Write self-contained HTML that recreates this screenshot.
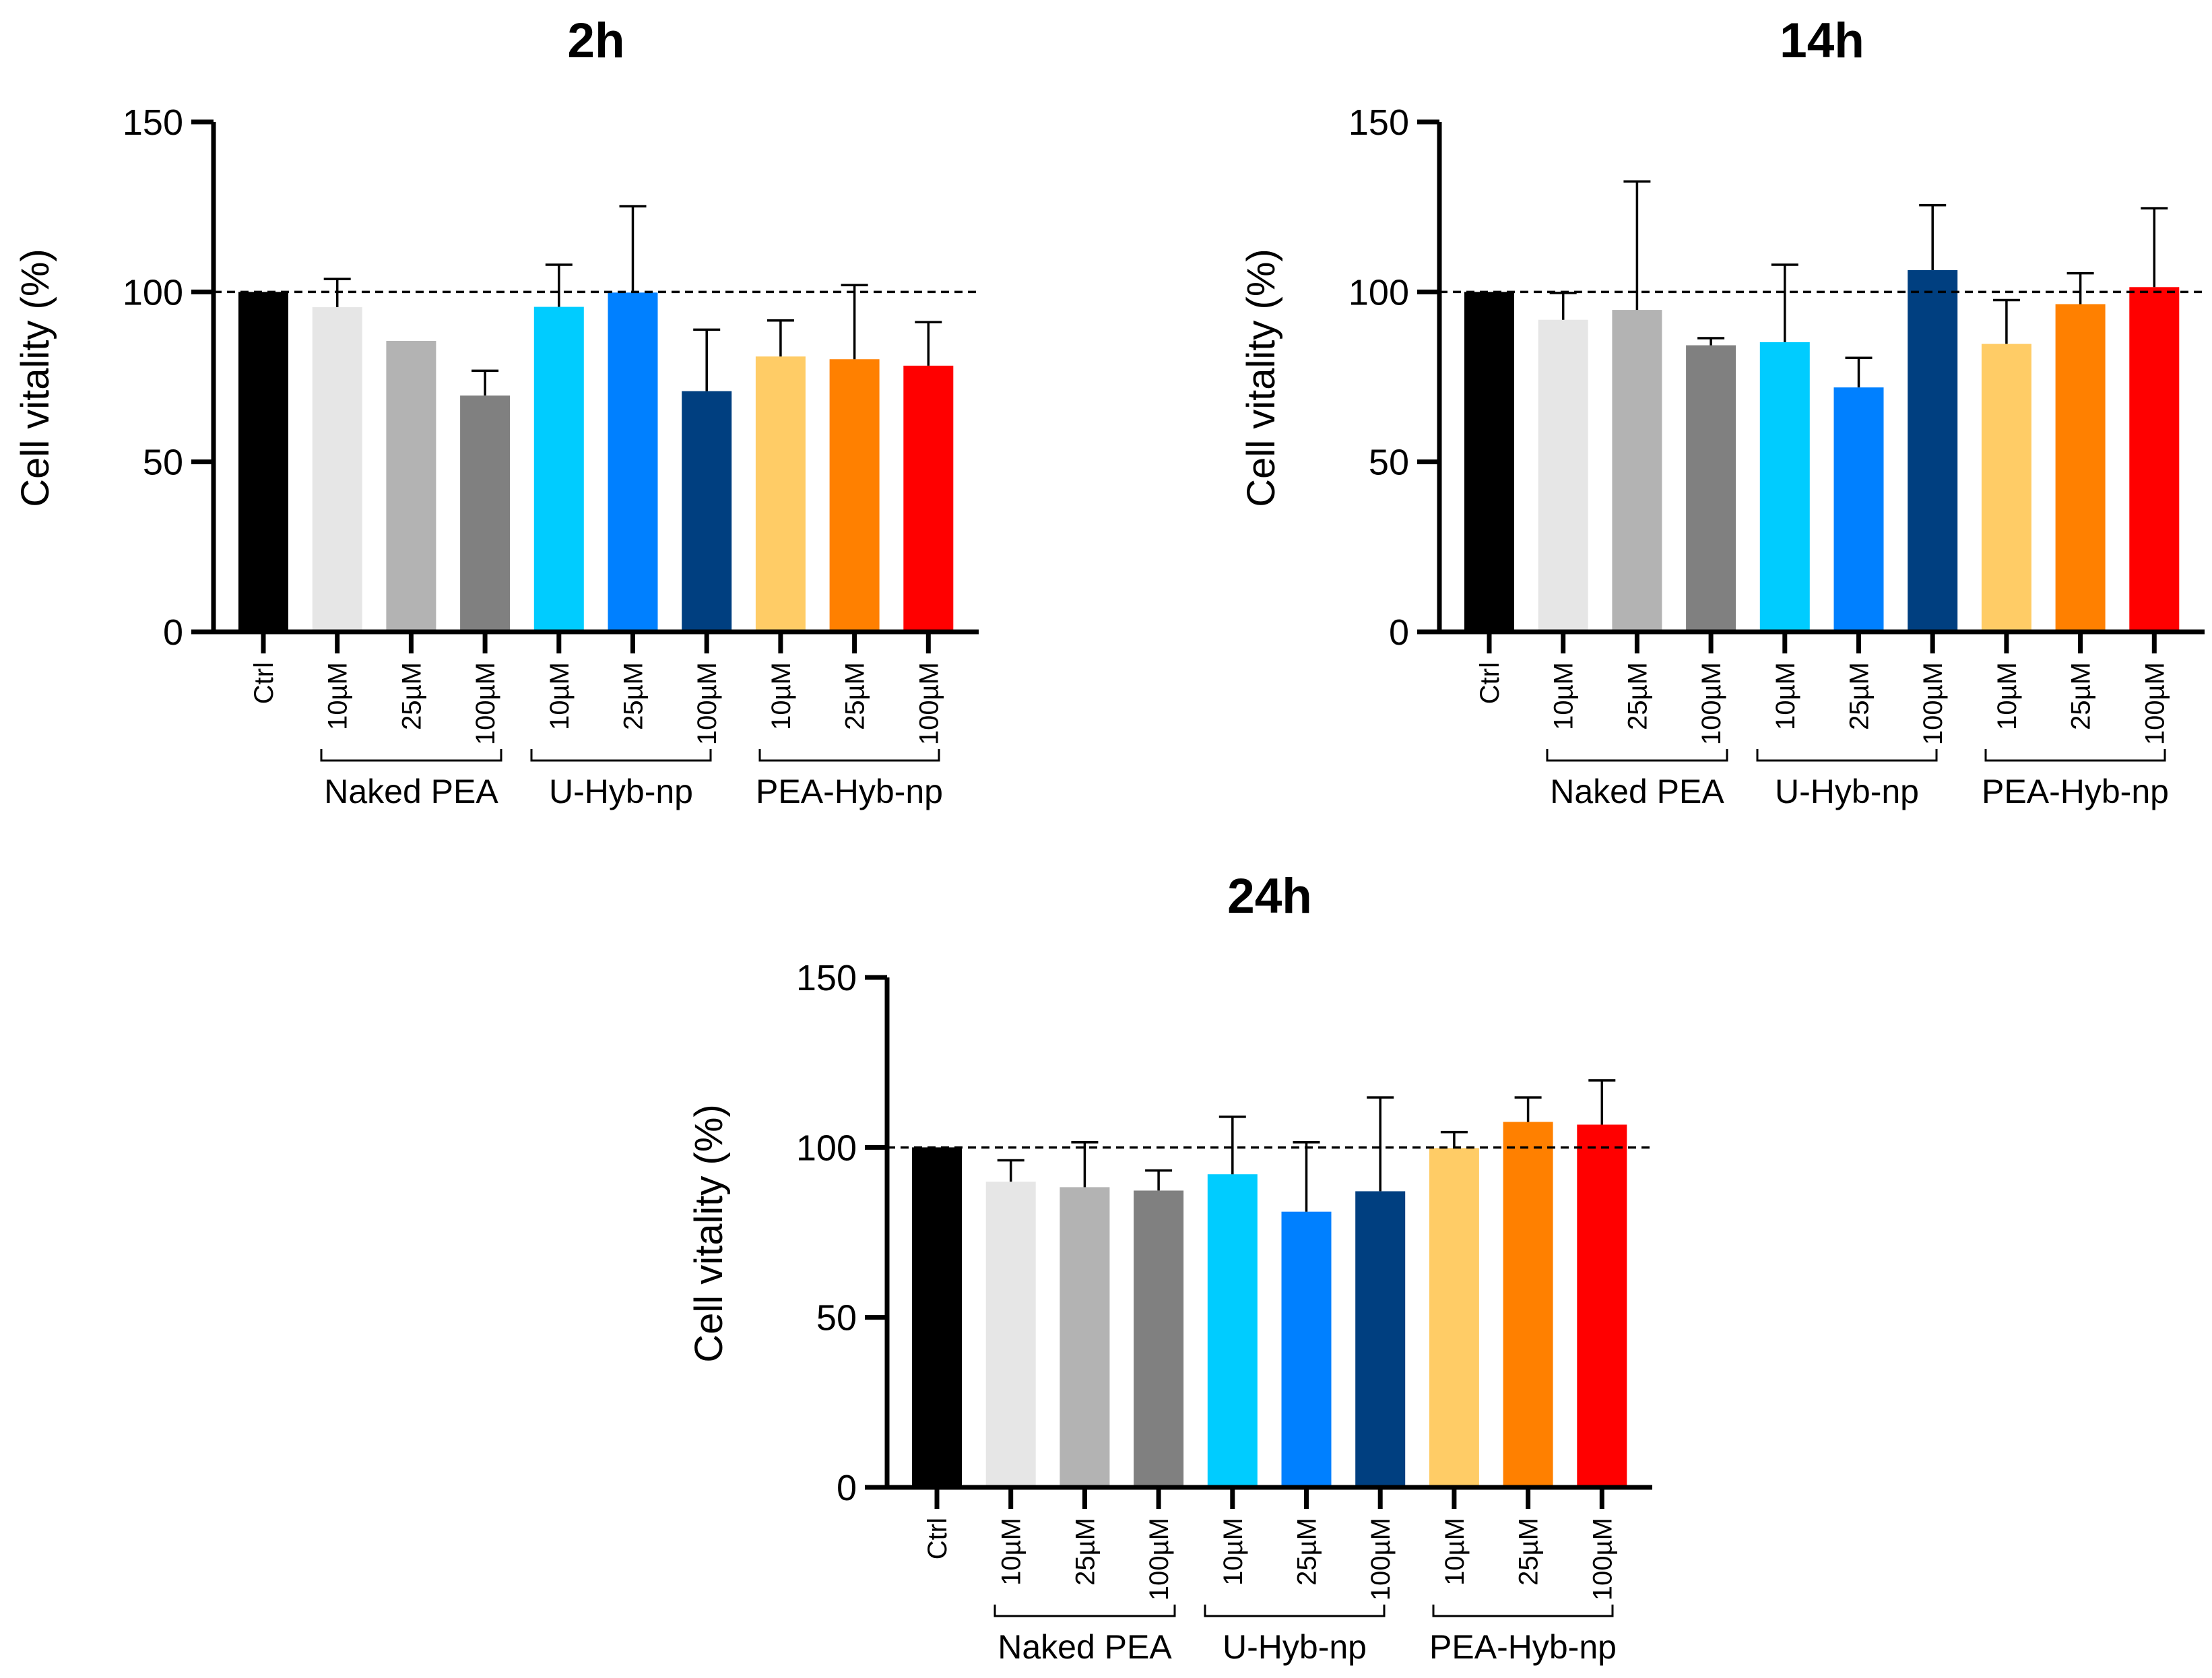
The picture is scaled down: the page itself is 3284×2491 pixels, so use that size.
<!DOCTYPE html>
<html><head><meta charset="utf-8"><style>
html,body{margin:0;padding:0;background:#fff;}
svg{display:block;font-family:"Liberation Sans",Arial,sans-serif;}
</style></head><body>
<svg id="fig" width="3284" height="2491" viewBox="0 0 3284 2491" xmlns="http://www.w3.org/2000/svg"></svg>
<script>
const categories = ["Ctrl","10µM","25µM","100µM","10µM","25µM","100µM","10µM","25µM","100µM"];
const groupNames = ["Naked PEA","U-Hyb-np","PEA-Hyb-np"];
const barColors = ["#000000","#e6e6e6","#b3b3b3","#808080","#00ccff","#0080ff","#003f80","#ffcc66","#ff8000","#ff0000"];
const yTicks = [0,50,100,150];
const panelTitles = ["2h","14h","24h"];
const means2h  = [100,95.5,85.6,69.5,95.6,99.8,70.8,81,80.2,78.3];
const errTop2h = [null,103.8,null,76.8,108,125.2,88.9,91.6,102,91.1];
const means14h  = [100,91.8,94.7,84.3,85.2,71.9,106.4,84.7,96.4,101.4];
const errTop14h = [null,99.7,132.5,86.4,108,80.6,125.5,97.6,105.5,124.6];
const means24h  = [100,89.9,88.3,87.3,92.1,81.1,87.1,99.8,107.5,106.7];
const errTop24h = [null,96.2,101.5,93.2,109,101.5,114.7,104.5,114.7,119.7];

const NS="http://www.w3.org/2000/svg";
const svg=document.getElementById('fig');
function mk(tag,attrs,parent){const e=document.createElementNS(NS,tag);for(const k in attrs)e.setAttribute(k,attrs[k]);(parent||svg).appendChild(e);return e;}

const panels=[
 {ox:317,oy:0,means:means2h,errs:errTop2h,title:panelTitles[0],name:'panel-2h'},
 {ox:2137,oy:0,means:means14h,errs:errTop14h,title:panelTitles[1],name:'panel-14h'},
 {ox:1317,oy:1270,means:means24h,errs:errTop24h,title:panelTitles[2],name:'panel-24h'}
];
const brackets=[[160,427],[472,738],[811,1077]];

panels.forEach(p=>{
  const g=mk('g',{});
  
  
  const y0=938+p.oy, y150=181+p.oy;
  const ys=v=>y0-(v/150)*(y0-y150);
  const xs=i=>p.ox+74+i*109.7;
  const axEnd=p.ox+1136;
  // title
  const t=mk('text',{x:p.ox+568,y:85+p.oy,'text-anchor':'middle','font-size':73,'font-weight':'bold',fill:'#000'},g);
  t.textContent=p.title;
  
  
  // y label
  const yl=mk('text',{x:0,y:0,'text-anchor':'middle','font-size':58,fill:'#000',transform:`translate(${p.ox-245},${561+p.oy}) rotate(-90)`},g);
  yl.textContent='Cell vitality (%)';
  
  
  // bars
  p.means.forEach((v,i)=>{
    const cx=xs(i);
    const r=mk('rect',{x:cx-37,y:ys(v),width:74,height:y0-ys(v),fill:barColors[i]},g);
    
    
    const e=p.errs[i];
    if(e!=null){
      const l=mk('path',{d:`M${cx},${ys(v)}V${ys(e)}M${cx-20},${ys(e)}H${cx+20}`,stroke:'#000','stroke-width':3.5,fill:'none'},g);
      
      
    }
  });
  // dashed reference
  const d=mk('line',{x1:p.ox,x2:axEnd,y1:ys(100),y2:ys(100),stroke:'#000','stroke-width':3.5,'stroke-dasharray':'12 8'},g);
  
  
  // axes
  const ya=mk('path',{d:`M${p.ox},${y150}V${y0+3.5}`,stroke:'#000','stroke-width':7},g);
  
  
  const xa=mk('path',{d:`M${p.ox-3.5},${y0}H${axEnd}`,stroke:'#000','stroke-width':7},g);
  
  
  yTicks.forEach(v=>{
    mk('path',{d:`M${p.ox-33},${ys(v)}H${p.ox}`,stroke:'#000','stroke-width':7},g);
    const tl=mk('text',{x:p.ox-45,y:ys(v)+19,'text-anchor':'end','font-size':54,fill:'#000'},g);
    tl.textContent=v;
    
    
  });
  categories.forEach((c,i)=>{
    const cx=xs(i);
    mk('path',{d:`M${cx},${y0}V${y0+32}`,stroke:'#000','stroke-width':7},g);
    const tl=mk('text',{x:0,y:0,'text-anchor':'end','font-size':40,fill:'#000',transform:`translate(${cx+14},${983+p.oy}) rotate(-90)`},g);
    tl.textContent=c;
    
    
  });
  brackets.forEach((b,k)=>{
    const x1=p.ox+b[0], x2=p.ox+b[1], by=1129+p.oy;
    const br=mk('path',{d:`M${x1},${by-17}V${by}H${x2}V${by-17}`,stroke:'#000','stroke-width':3,fill:'none'},g);
    
    
    const gl=mk('text',{x:(x1+x2)/2,y:1192+p.oy,'text-anchor':'middle','font-size':50,fill:'#000'},g);
    gl.textContent=groupNames[k];
    
    
  });
});
</script>
</body></html>
